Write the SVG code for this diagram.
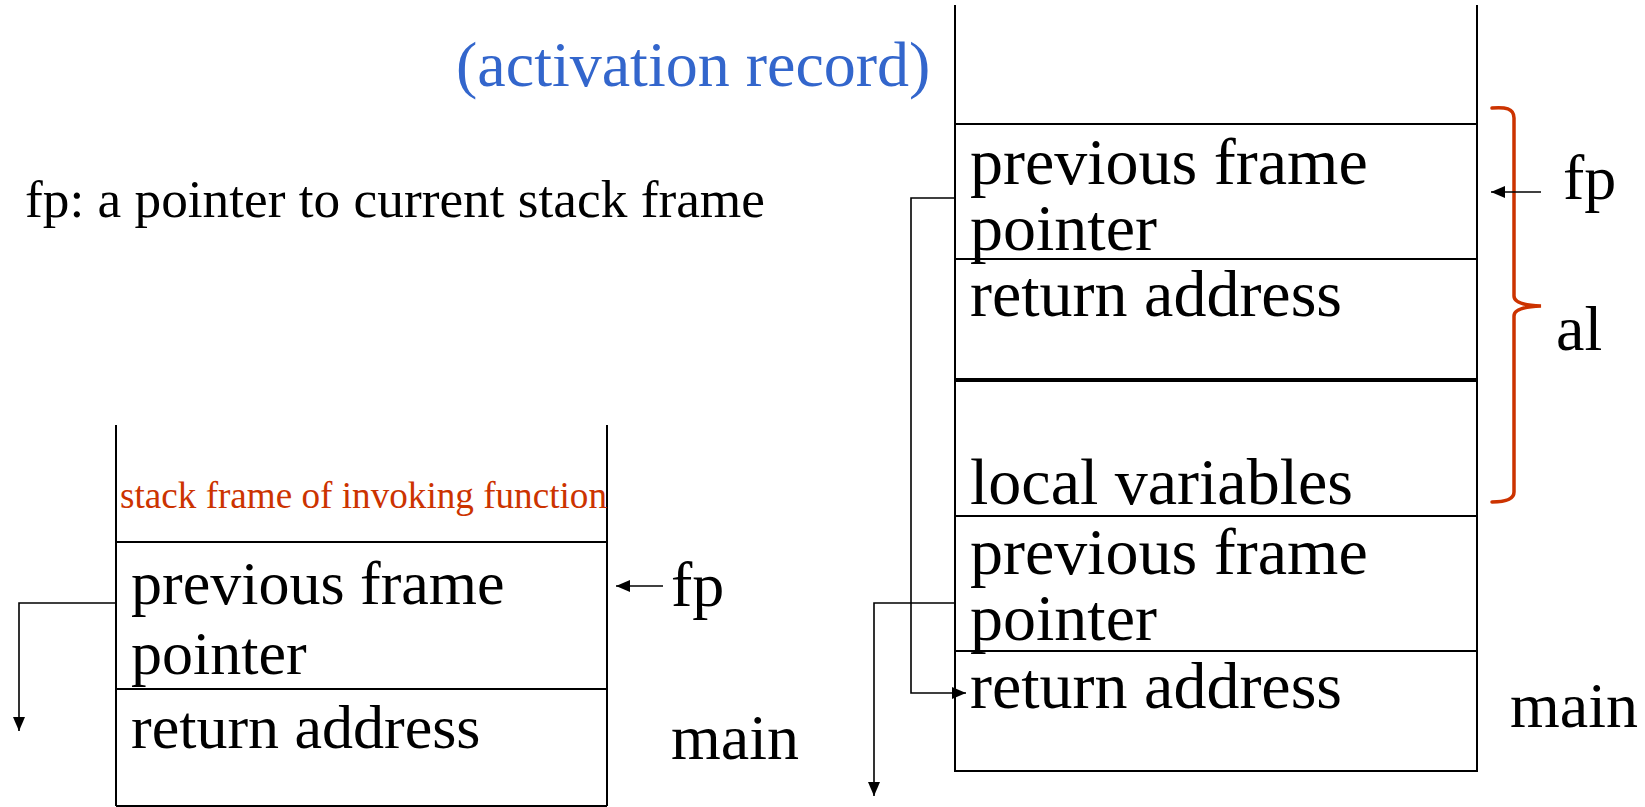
<svg xmlns="http://www.w3.org/2000/svg" width="1645" height="807" viewBox="0 0 1645 807">
<style>
text { font-family: "Liberation Serif", "Times New Roman", serif; fill: #000; }
.big { font-size: 66px; }
.mid { font-size: 62px; }
.lbl { font-size: 64px; }
.note { font-size: 53.3px; }
.blue { fill: #3366cc; font-size: 64px; }
.red { fill: #cc3300; font-size: 37px; }
.box { stroke: #000; stroke-width: 2; fill: none; }
.thick { stroke: #000; stroke-width: 4; fill: none; }
.conn { stroke: #000; stroke-width: 1.6; fill: none; }
.brace { stroke: #cc3300; stroke-width: 3.5; fill: none; stroke-linecap: round; }
</style>
<defs>
<marker id="arr" markerWidth="14" markerHeight="12" refX="14" refY="6" orient="auto" markerUnits="userSpaceOnUse">
<path d="M0,0 L14,6 L0,12 Z" fill="#000"/>
</marker>
</defs>

<g id="title">
<text class="blue" x="456" y="86">(activation record)</text>
</g>
<g id="definition">
<text class="note" x="25" y="217">fp: a pointer to current stack frame</text>
</g>

<g id="right-stack">
<line class="box" x1="955" y1="5" x2="955" y2="772"/>
<line class="box" x1="1477" y1="5" x2="1477" y2="772"/>
<line class="box" x1="955" y1="124" x2="1477" y2="124"/>
<line class="box" x1="955" y1="259" x2="1477" y2="259"/>
<line class="thick" x1="955" y1="380" x2="1477" y2="380"/>
<line class="box" x1="955" y1="516" x2="1477" y2="516"/>
<line class="box" x1="955" y1="651" x2="1477" y2="651"/>
<line class="box" x1="955" y1="771" x2="1477" y2="771"/>
<text class="big" x="970" y="184">previous frame</text>
<text class="big" x="970" y="250">pointer</text>
<text class="big" x="970" y="316">return address</text>
<text class="big" x="970" y="504">local variables</text>
<text class="big" x="970" y="574">previous frame</text>
<text class="big" x="970" y="640">pointer</text>
<text class="big" x="970" y="708">return address</text>
</g>
<g id="right-labels">
<path class="brace" d="M1492,108 C1505,107 1514,108 1514,118 V296 Q1514,305 1541,306 Q1514,307 1514,316 V492 C1514,500 1505,502 1492,502"/>
<text class="lbl" x="1563" y="199">fp</text>
<text class="lbl" x="1556" y="350">al</text>
<text class="lbl" x="1510" y="727">main</text>
</g>

<g id="left-stack">
<line class="box" x1="116" y1="425" x2="116" y2="806"/>
<line class="box" x1="607" y1="425" x2="607" y2="806"/>
<line class="box" x1="116" y1="542" x2="607" y2="542"/>
<line class="box" x1="116" y1="689" x2="607" y2="689"/>
<line class="box" x1="116" y1="806" x2="607" y2="806"/>
<text class="red" x="120" y="508" textLength="487" lengthAdjust="spacingAndGlyphs">stack frame of invoking function</text>
<text class="mid" x="131" y="604">previous frame</text>
<text class="mid" x="131" y="674">pointer</text>
<text class="mid" x="131" y="748">return address</text>
</g>
<g id="left-labels">
<text class="lbl" x="671" y="606">fp</text>
<text class="lbl" x="671" y="759">main</text>
</g>

<g id="connectors">
<path class="conn" d="M116,603 H19 V731" marker-end="url(#arr)"/>
<path class="conn" d="M955,198 H911 V693 H966" marker-end="url(#arr)"/>
<path class="conn" d="M955,603 H874 V796" marker-end="url(#arr)"/>
<path class="conn" d="M1541,192 H1491" marker-end="url(#arr)"/>
<path class="conn" d="M663,586 H616" marker-end="url(#arr)"/>
</g>
</svg>
